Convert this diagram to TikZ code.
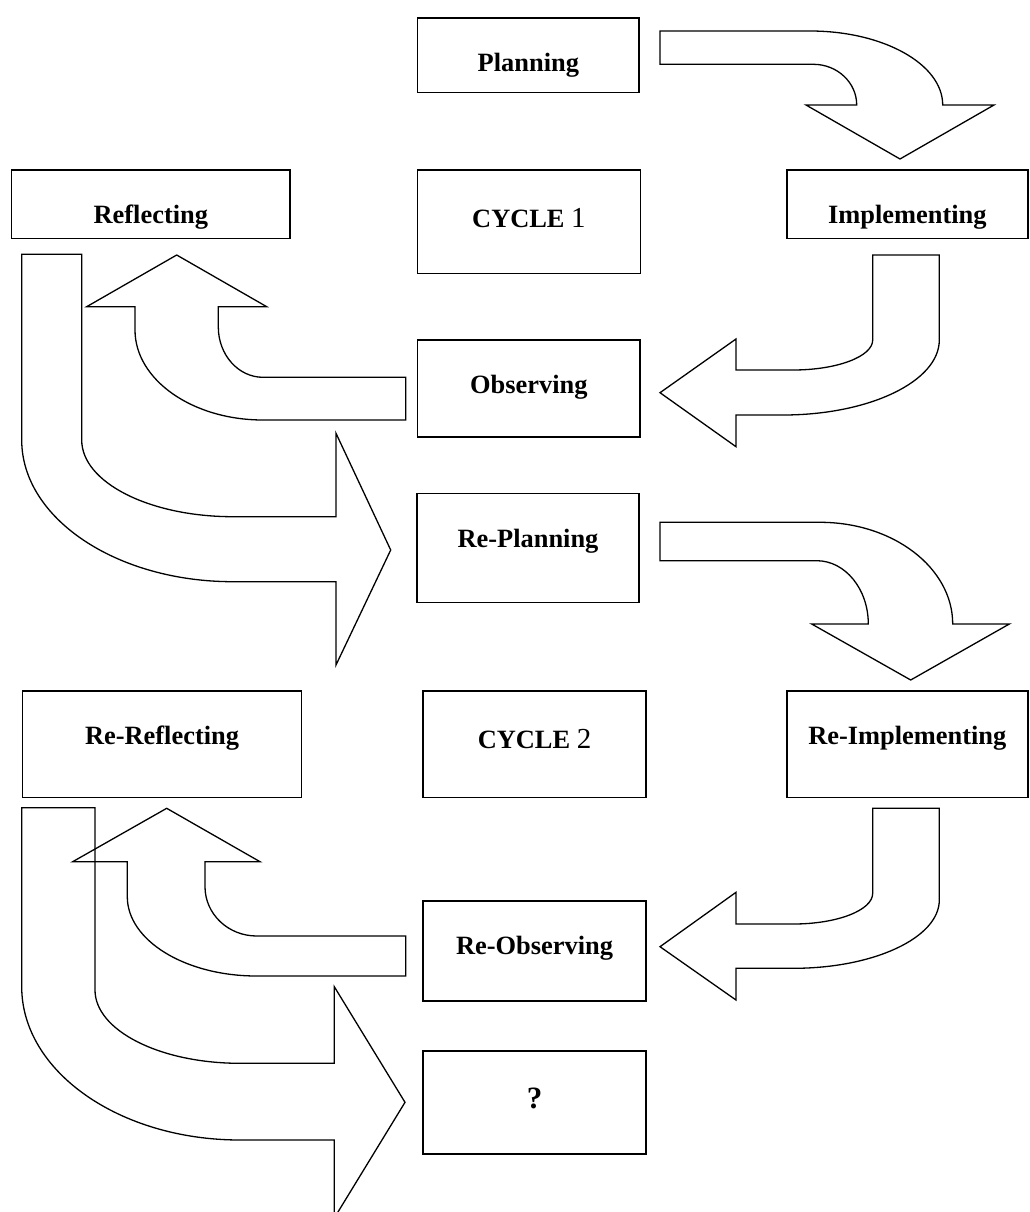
\documentclass[tikz,border=0pt]{standalone}
\usepackage{fontspec}
\setmainfont{Liberation Serif}
\usetikzlibrary{positioning}
\newcommand{\stagefont}{\fontsize{26.4}{30}\selectfont\bfseries}
\newcommand{\cyclenum}[1]{{\fontsize{29}{32}\selectfont\mdseries #1}}

\begin{document}
\begin{tikzpicture}[x=1pt,y=-1pt,
  stage/.style 2 args={draw,line width=1.7pt,inner sep=0pt,anchor=north west,
    font=\stagefont,minimum width=#1,text height=53.5pt,text depth=#2},
  block/.style={draw,line width=1.3pt,line join=miter}]
  \path[use as bounding box,fill=white] (0,0) rectangle (1029,1212);

  % cycle 1
  \node[stage={221.6pt}{20.9pt}] (plan) at (416.7,17.3) {Planning};
  \node[stage={278.6pt}{15.2pt}] (refl) at (10.7,169) {Reflecting};
  \node[stage={222.8pt}{46pt},text height=57.7pt] (cyc1) at (416.7,169) {CYCLE \cyclenum{1}};
  \node[stage={241pt}{15.2pt}] (impl) at (786,169) {Implementing};
  \node[stage={222.6pt}{43.5pt}] (obs) at (416.7,339) {Observing};

  % cycle 2
  \node[stage={222.3pt}{55.5pt}] (replan) at (416,492.7) {Re-Planning};
  \node[stage={279pt}{53.2pt}] (rerefl) at (21.7,690) {Re-Reflecting};
  \node[stage={222.7pt}{48.7pt},text height=58pt] (cyc2) at (422.3,690) {CYCLE \cyclenum{2}};
  \node[stage={241pt}{53.2pt}] (reimpl) at (786,690) {Re-Implementing};
  \node[stage={222.7pt}{46.5pt}] (reobs) at (422.3,900) {Re-Observing};
  \node[stage={222.7pt}{46pt},text height=57.3pt] (next) at (422.3,1050) {\fontsize{31}{34}\selectfont ?};

  % bent arrows, cycle 1
  \draw[block] (660,31) -- (810,31) arc[start angle=-90,end angle=0,x radius=132.7,y radius=74]
    -- (994,105) -- (900,159) -- (806,105) -- (856.7,105)
    arc[start angle=0,end angle=-90,x radius=43.4,y radius=40.7] -- (660,64.3) -- cycle;
  \draw[block] (872.7,255) -- (939.3,255) -- (939.3,340)
    arc[start angle=0,end angle=90,x radius=156.3,y radius=75] -- (736,415) -- (736,446.7)
    -- (660,392.7) -- (736,339) -- (736,370) -- (793,370)
    arc[start angle=90,end angle=0,x radius=79.7,y radius=30] -- cycle;
  \draw[block] (405.7,377.3) -- (263,377.3)
    arc[start angle=90,end angle=180,x radius=44.7,y radius=50.3] -- (218.3,306.7) -- (266.7,306.7)
    -- (176.7,255) -- (86.7,306.7) -- (135,306.7) -- (135,330)
    arc[start angle=180,end angle=90,x radius=128,y radius=90] -- (405.7,420) -- cycle;
  \draw[block] (21.7,254.3) -- (81.7,254.3) -- (81.7,440)
    arc[start angle=180,end angle=90,x radius=151.3,y radius=76.7] -- (336,516.7) -- (336,433.3)
    -- (390.7,550) -- (336,665) -- (336,581.7) -- (233,581.7)
    arc[start angle=90,end angle=180,x radius=211.3,y radius=141.7] -- cycle;

  % bent arrows, cycle 2
  \draw[block] (660,522.3) -- (820,522.3) arc[start angle=-90,end angle=0,x radius=132.7,y radius=101.7]
    -- (1009.3,624) -- (910.7,680) -- (811.7,624) -- (868.3,624)
    arc[start angle=0,end angle=-90,x radius=51.6,y radius=63.3] -- (660,560.7) -- cycle;
  \draw[block] (872.7,808.3) -- (939.3,808.3) -- (939.3,900)
    arc[start angle=0,end angle=90,x radius=146,y radius=68.3] -- (736,968.3) -- (736,1000)
    -- (660,946.7) -- (736,892.3) -- (736,924) -- (793.3,924)
    arc[start angle=90,end angle=0,x radius=79.4,y radius=30.7] -- cycle;
  \draw[block] (405.7,936) -- (256.7,936)
    arc[start angle=90,end angle=180,x radius=51.7,y radius=49.3] -- (205,861.7) -- (260,861.7)
    -- (166.7,808.3) -- (72.7,861.7) -- (127.3,861.7) -- (127.3,896.7)
    arc[start angle=180,end angle=90,x radius=129.4,y radius=79.3] -- (405.7,976) -- cycle;
  \draw[block] (21.7,807.7) -- (95,807.7) -- (95,990)
    arc[start angle=180,end angle=90,x radius=145,y radius=73.3] -- (334.3,1063.3) -- (334.3,986.7)
    -- (405,1102.3) -- (334.3,1218) -- (334.3,1140) -- (240,1140)
    arc[start angle=90,end angle=180,x radius=218.3,y radius=153.3] -- cycle;
\end{tikzpicture}
\end{document}
